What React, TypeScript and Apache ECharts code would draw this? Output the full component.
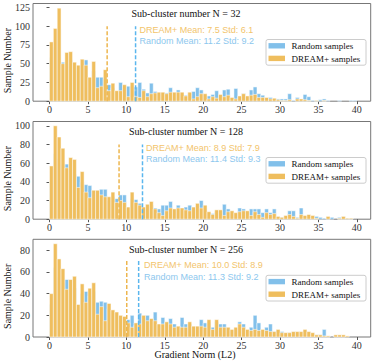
import React, { useEffect, useRef } from "react";
import * as echarts from "echarts";

// ---------- data ----------
const BIN_WIDTH = 0.5;
const BIN_COUNT = 80;
const binStarts = Array.from({ length: BIN_COUNT }, (_, k) => k * BIN_WIDTH);

const xTicks = [0, 5, 10, 15, 20, 25, 30, 35, 40];
const yTicks = [
  [0, 25, 50, 75, 100, 125],
  [0, 20, 40, 60, 80, 100],
  [0, 20, 40, 60, 80],
];
const yMax = [130.2, 104.6, 90.1];

const panelTitles = [
  "Sub-cluster number N = 32",
  "Sub-cluster number N = 128",
  "Sub-cluster number N = 256",
];
const dreamLabels = [
  "DREAM+ Mean: 7.5 Std: 6.1",
  "DREAM+ Mean: 8.9 Std: 7.9",
  "DREAM+ Mean: 10.0 Std: 8.9",
];
const randomLabels = [
  "Random Mean: 11.2 Std: 9.2",
  "Random Mean: 11.4 Std: 9.3",
  "Random Mean: 11.3 Std: 9.2",
];
const dreamMeanX = [7.5, 9.05, 10.05];
const randomMeanX = [11.2, 12.1, 11.6];
const meanLineTop = [100, 80, 70];

const legendNames = ["Random samples", "DREAM+ samples"];
const xAxisTitle = "Gradient Norm (L2)";
const yAxisTitle = "Sample Number";

// Panel 1 (N = 32)
const dream1 = [
  79, 97, 124, 50, 65, 66, 52, 48, 56, 48,
  32, 53, 18, 20, 42, 14, 24, 14, 14, 22,
  6, 25, 6, 5, 14, 6, 10, 11, 12, 12,
  10, 12, 12, 12, 12, 7, 12, 3, 6, 10,
  10, 3, 6, 4, 9, 6, 8, 5, 3, 7,
  10, 7, 8, 9, 5, 5, 5, 3, 4, 2,
  1, 1, 2, 0, 3, 3, 2, 1, 0, 1,
  0, 1, 0, 0, 0, 0, 0, 0, 0, 0,
];
const random1 = [
  58, 72, 96, 52, 50, 55, 44, 40, 47, 55,
  26, 40, 32, 32, 30, 22, 18, 12, 25, 18,
  20, 20, 19, 25, 16, 11, 24, 13, 11, 11,
  11, 18, 11, 15, 10, 8, 10, 13, 18, 15,
  9, 7, 9, 14, 8, 15, 16, 4, 17, 6,
  10, 6, 15, 19, 10, 8, 4, 5, 3, 3,
  3, 3, 10, 1, 5, 2, 9, 6, 1, 1,
  2, 3, 1, 0, 0, 1, 0, 0, 1, 1,
];

// Panel 2 (N = 128)
const dream2 = [
  57, 100, 88, 76, 55, 66, 64, 34, 51, 29,
  23, 31, 31, 26, 24, 24, 29, 18, 20, 18,
  13, 29, 18, 15, 13, 16, 19, 11, 7, 4,
  9, 12, 11, 12, 12, 10, 9, 13, 17, 12,
  15, 8, 5, 10, 10, 4, 8, 9, 7, 8,
  9, 9, 4, 8, 5, 2, 7, 5, 6, 3,
  2, 4, 5, 3, 1, 5, 4, 5, 4, 1,
  0, 0, 3, 0, 0, 1, 3, 1, 1, 0,
];
const random2 = [
  40, 70, 65, 58, 59, 50, 48, 46, 40, 37,
  36, 25, 26, 32, 32, 20, 24, 22, 26, 26,
  11, 22, 21, 17, 12, 13, 15, 12, 11, 15,
  15, 19, 10, 15, 10, 13, 15, 11, 14, 20,
  12, 7, 6, 8, 9, 16, 11, 8, 6, 12,
  11, 8, 11, 11, 11, 7, 11, 7, 11, 2,
  2, 3, 9, 9, 2, 12, 3, 3, 3, 3,
  2, 1, 2, 2, 0, 2, 2, 1, 1, 0,
];

// Panel 3 (N = 256)
const dream3 = [
  40, 86, 72, 63, 44, 53, 56, 30, 49, 32,
  45, 50, 21, 28, 15, 31, 25, 23, 20, 19,
  13, 9, 13, 12, 20, 15, 17, 15, 12, 12,
  14, 12, 9, 10, 9, 9, 14, 10, 10, 10,
  9, 16, 7, 16, 9, 9, 9, 7, 9, 12,
  9, 7, 6, 7, 6, 7, 6, 5, 5, 7,
  4, 4, 4, 5, 5, 5, 7, 5, 4, 2,
  2, 1, 1, 0, 2, 2, 2, 1, 0, 0,
];
const random3 = [
  30, 64, 55, 50, 53, 45, 45, 26, 40, 42,
  38, 42, 32, 33, 32, 26, 22, 20, 18, 16,
  16, 20, 11, 22, 17, 20, 14, 23, 11, 18,
  13, 17, 12, 9, 18, 12, 12, 9, 9, 16,
  13, 14, 9, 14, 12, 12, 8, 6, 8, 14,
  12, 6, 9, 20, 13, 6, 9, 12, 5, 6,
  5, 3, 4, 4, 4, 4, 6, 4, 3, 2,
  2, 7, 1, 0, 1, 1, 1, 0, 0, 0,
];

const dreamData = [dream1, dream2, dream3];
const randomData = [random1, random2, random3];

// ---------- styles ----------
const W = 374;
const H = 364;
const GRID_LEFT = 33;
const GRID_W = 337.7;
const GRID_H = 97.7;
const PANEL_TOPS = [3.5, 121.5, 239.3];
const X_MIN = -2.15;
const X_MAX = 41.8;

const ORANGE = "#EFBE5E";
const BLUE = "#82C0EA";
const ORANGE_LINE = "#EDB64E";
const BLUE_LINE = "#5AB6EE";
const ORANGE_TEXT = "#F2C46C";
const BLUE_TEXT = "#8DC7EE";
const SERIF = '"Liberation Serif", "Times New Roman", serif';
const SANS = '"Liberation Sans", Arial, sans-serif';

function histSeries(panel: number, values: number[], color: string, name: string) {
  return {
    type: "custom",
    name,
    xAxisIndex: panel,
    yAxisIndex: panel,
    data: binStarts.map((x, k) => [x, values[k]]),
    encode: { x: 0, y: 1 },
    silent: true,
    renderItem: (_params: any, api: any) => {
      const x0 = api.value(0);
      const v = api.value(1);
      if (!v) return null;
      const p0 = api.coord([x0, v]);
      const p1 = api.coord([x0 + BIN_WIDTH, 0]);
      return {
        type: "rect",
        shape: { x: p0[0], y: p0[1], width: p1[0] - p0[0], height: p1[1] - p0[1] },
        style: { fill: color, stroke: "rgba(255,255,255,0.85)", lineWidth: 0.6 },
      };
    },
  };
}

function meanLine(panel: number, x: number, top: number, color: string) {
  return {
    type: "line",
    xAxisIndex: panel,
    yAxisIndex: panel,
    data: [
      [x, 0],
      [x, top],
    ],
    symbol: "none",
    silent: true,
    z: 5,
    lineStyle: { color, width: 1.5, type: [4, 2] },
  };
}

export default function App() {
  const ref = useRef<HTMLDivElement>(null);

  useEffect(() => {
    if (!ref.current) return;
    const chart = echarts.init(ref.current, null, { renderer: "svg" });

    const grid: any[] = [];
    const xAxis: any[] = [];
    const yAxis: any[] = [];
    const series: any[] = [];
    const graphic: any[] = [];

    PANEL_TOPS.forEach((top, i) => {
      grid.push({
        left: GRID_LEFT,
        top,
        width: GRID_W,
        height: GRID_H,
        show: true,
        borderColor: "#777",
        borderWidth: 1,
        backgroundColor: "transparent",
      });
      xAxis.push({
        type: "value",
        gridIndex: i,
        min: X_MIN,
        max: X_MAX,
        axisLine: { show: false },
        splitLine: { show: false },
        axisTick: { show: true, customValues: xTicks, length: 3, lineStyle: { color: "#555" } },
        axisLabel: { customValues: xTicks, fontFamily: SERIF, fontSize: 10, color: "#333", margin: 3 },
      });
      yAxis.push({
        type: "value",
        gridIndex: i,
        min: 0,
        max: yMax[i],
        axisLine: { show: false },
        splitLine: { show: false },
        axisTick: { show: true, customValues: yTicks[i], length: 3, lineStyle: { color: "#555" } },
        axisLabel: { customValues: yTicks[i], fontFamily: SERIF, fontSize: 10, color: "#333", margin: 3 },
      });

      series.push(histSeries(i, randomData[i], BLUE, legendNames[0]));
      series.push(histSeries(i, dreamData[i], ORANGE, legendNames[1]));
      series.push(meanLine(i, dreamMeanX[i], meanLineTop[i], ORANGE_LINE));
      series.push(meanLine(i, randomMeanX[i], meanLineTop[i], BLUE_LINE));

      const textLeft = [139.5, 146, 144][i];
      graphic.push(
        {
          type: "text",
          x: 186,
          y: top + 9.8,
          style: { text: panelTitles[i], fontFamily: SERIF, fontSize: 10, fill: "#111", align: "center", verticalAlign: "middle" },
        },
        {
          type: "text",
          x: textLeft,
          y: top + 26,
          style: { text: dreamLabels[i], fontFamily: SANS, fontSize: 9, fill: ORANGE_TEXT, align: "left", verticalAlign: "middle" },
        },
        {
          type: "text",
          x: textLeft,
          y: top + 37.3,
          style: { text: randomLabels[i], fontFamily: SANS, fontSize: 9, fill: BLUE_TEXT, align: "left", verticalAlign: "middle" },
        },
        {
          type: "rect",
          shape: { x: 266, y: top + 36, width: 100, height: 25.7, r: 2 },
          style: { fill: "rgba(255,255,255,0.85)", stroke: "#ccc", lineWidth: 1 },
          z: 10,
        },
        {
          type: "rect",
          shape: { x: 268.5, y: top + 39.6, width: 16.5, height: 5.4 },
          style: { fill: BLUE },
          z: 11,
        },
        {
          type: "rect",
          shape: { x: 268.5, y: top + 52.2, width: 16.5, height: 5.4 },
          style: { fill: ORANGE },
          z: 11,
        },
        {
          type: "text",
          x: 291.5,
          y: top + 42.6,
          z: 11,
          style: { text: legendNames[0], fontFamily: SERIF, fontSize: 9, fill: "#111", align: "left", verticalAlign: "middle" },
        },
        {
          type: "text",
          x: 291.5,
          y: top + 55.2,
          z: 11,
          style: { text: legendNames[1], fontFamily: SERIF, fontSize: 9, fill: "#111", align: "left", verticalAlign: "middle" },
        },
        {
          type: "text",
          x: 7.5,
          y: top + 57,
          rotation: Math.PI / 2,
          style: { text: yAxisTitle, fontFamily: SERIF, fontSize: 10, fill: "#111", align: "center", verticalAlign: "middle" },
        }
      );
    });

    graphic.push({
      type: "text",
      x: 195,
      y: 354.5,
      style: { text: xAxisTitle, fontFamily: SERIF, fontSize: 10, fill: "#111", align: "center", verticalAlign: "middle" },
    });

    chart.setOption({
      animation: false,
      backgroundColor: "#fff",
      grid,
      xAxis,
      yAxis,
      series,
      graphic,
    });

    return () => chart.dispose();
  }, []);

  return (
    <div
      ref={ref}
      style={{ position: "fixed", left: 0, top: 0, width: W, height: H }}
    />
  );
}
